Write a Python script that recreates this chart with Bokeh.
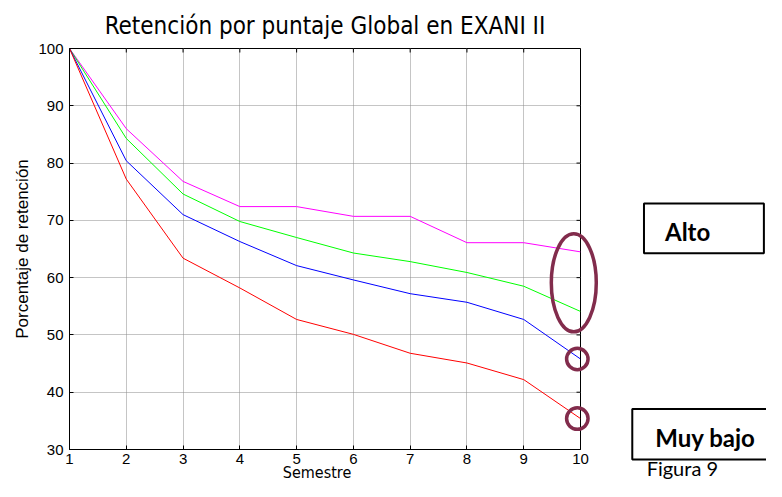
import numpy as np
from bokeh.plotting import figure
from bokeh.models import FixedTicker, Range1d
from bokeh.core.properties import value
from bokeh.embed import file_html
from bokeh.resources import INLINE

# ---------------- data ----------------
semestre = [1, 2, 3, 4, 5, 6, 7, 8, 9, 10]
alto = [100, 86.0, 76.8, 72.4, 72.4, 70.7, 70.7, 66.1, 66.1, 64.5]        # magenta
medio_alto = [100, 84.3, 74.6, 69.8, 67.0, 64.3, 62.8, 60.9, 58.5, 54.1]  # green
medio_bajo = [100, 80.4, 71.0, 66.3, 62.1, 59.6, 57.2, 55.7, 52.7, 45.8]  # blue
muy_bajo = [100, 77.2, 63.4, 58.2, 52.7, 50.1, 46.8, 45.1, 42.2, 35.4]    # red
x_ticks = [1, 2, 3, 4, 5, 6, 7, 8, 9, 10]
y_ticks = [30, 40, 50, 60, 70, 80, 90, 100]

TITLE = "Retención por puntaje Global en EXANI II"
XLABEL = "Semestre"
YLABEL = "Porcentaje de retención"
BOX_TEXTS = ["Alto", "Muy bajo"]
FIG_TEXT = "Figura 9"

MAROON = "#822C4C"
TICK_FONT = "Liberation Sans"
TITLE_FONT = "DejaVu Sans Condensed"
BOX_FONT = "Lato"

p = figure(width=766, height=481, x_range=Range1d(1, 10), y_range=Range1d(30, 100),
           output_backend="svg", toolbar_location=None,
           min_border_left=69, min_border_right=186, min_border_top=47, min_border_bottom=32)
p.background_fill_color = "white"
p.border_fill_color = "white"
p.outline_line_color = "black"
p.outline_line_width = 1

p.title.text = TITLE
p.title.align = "center"
p.title.offset = -7
p.title.text_font = TITLE_FONT
p.title.text_font_size = "24px"
p.title.text_font_style = "normal"
p.title.text_color = "black"
p.title.standoff = 18


def style_axis(ax, ticks):
    ax.ticker = FixedTicker(ticks=ticks)
    ax.major_tick_in = 4
    ax.major_tick_out = 0
    ax.minor_tick_in = 0
    ax.minor_tick_out = 0
    ax.axis_line_color = "black"
    ax.major_tick_line_color = "black"
    ax.major_label_text_font = TICK_FONT
    ax.major_label_text_color = "black"
    ax.major_label_text_font_size = "15px"


xa = p.xaxis[0]
ya = p.yaxis[0]
style_axis(xa, x_ticks)
style_axis(ya, y_ticks)
xa.major_label_standoff = 4
ya.major_label_standoff = 6
ya.axis_label = YLABEL
ya.axis_label_text_font = TICK_FONT
ya.axis_label_text_font_size = "17px"
ya.axis_label_text_font_style = "normal"
ya.axis_label_text_color = "black"
ya.axis_label_standoff = 3

# inward ticks on the top and right edges of the box
p.ray(x=x_ticks, y=[y_ticks[-1]] * len(x_ticks), length=4, length_units="screen",
      angle=-np.pi / 2, line_color="black", line_width=1)
p.ray(x=[x_ticks[-1]] * len(y_ticks), y=y_ticks, length=4, length_units="screen",
      angle=np.pi, line_color="black", line_width=1)

for g in (p.xgrid[0], p.ygrid[0]):
    g.grid_line_color = "#8a8a8a"
    g.grid_line_dash = "1 1"
    g.grid_line_width = 1
p.xgrid[0].ticker = FixedTicker(ticks=x_ticks)
p.ygrid[0].ticker = FixedTicker(ticks=y_ticks)

p.line(semestre, alto, line_color="#FF00FF", line_width=1)
p.line(semestre, medio_alto, line_color="#00FF00", line_width=1)
p.line(semestre, medio_bajo, line_color="#0000FF", line_width=1)
p.line(semestre, muy_bajo, line_color="#FF0000", line_width=1)

# x-axis title drawn as text below the axis
p.text(x=[5.36], y=[26.0], text=[XLABEL], text_font=value(TITLE_FONT), text_font_size="16px",
       text_align="center", text_baseline="middle", text_color="black", level="overlay")

# ---------------- annotations (decoration) ----------------
x_end = semestre[-1]
p.ellipse(x=[x_end - 0.118], y=[(alto[-1] + medio_alto[-1]) / 2 - 0.2], width=[0.792], height=[17.1],
          fill_color=None, line_color=MAROON, line_width=3.5, level="overlay")
p.ellipse(x=[x_end - 0.056, x_end - 0.056], y=[medio_bajo[-1], muy_bajo[-1]],
          width=[0.378, 0.378], height=[3.74, 3.74],
          fill_color=None, line_color=MAROON, line_width=3.5, level="overlay")

p.quad(left=[11.118, 10.912], right=[13.23, 13.9], top=[72.96, 37.09], bottom=[64.25, 28.26],
       fill_color=None, line_color="black", line_width=2, level="overlay")

p.text(x=[11.488, 11.317], y=[68.05, 32.18], text=BOX_TEXTS, text_font=value(BOX_FONT),
       text_font_size="24px", text_font_style="bold", text_align="left",
       text_baseline="middle", text_color="black", level="overlay")
p.text(x=[11.165], y=[26.69], text=[FIG_TEXT], text_font=value(BOX_FONT),
       text_font_size="20px", text_font_style="normal", text_align="left",
       text_baseline="middle", text_color="black", level="overlay")

open("out.html", "w").write(file_html(p, INLINE))
